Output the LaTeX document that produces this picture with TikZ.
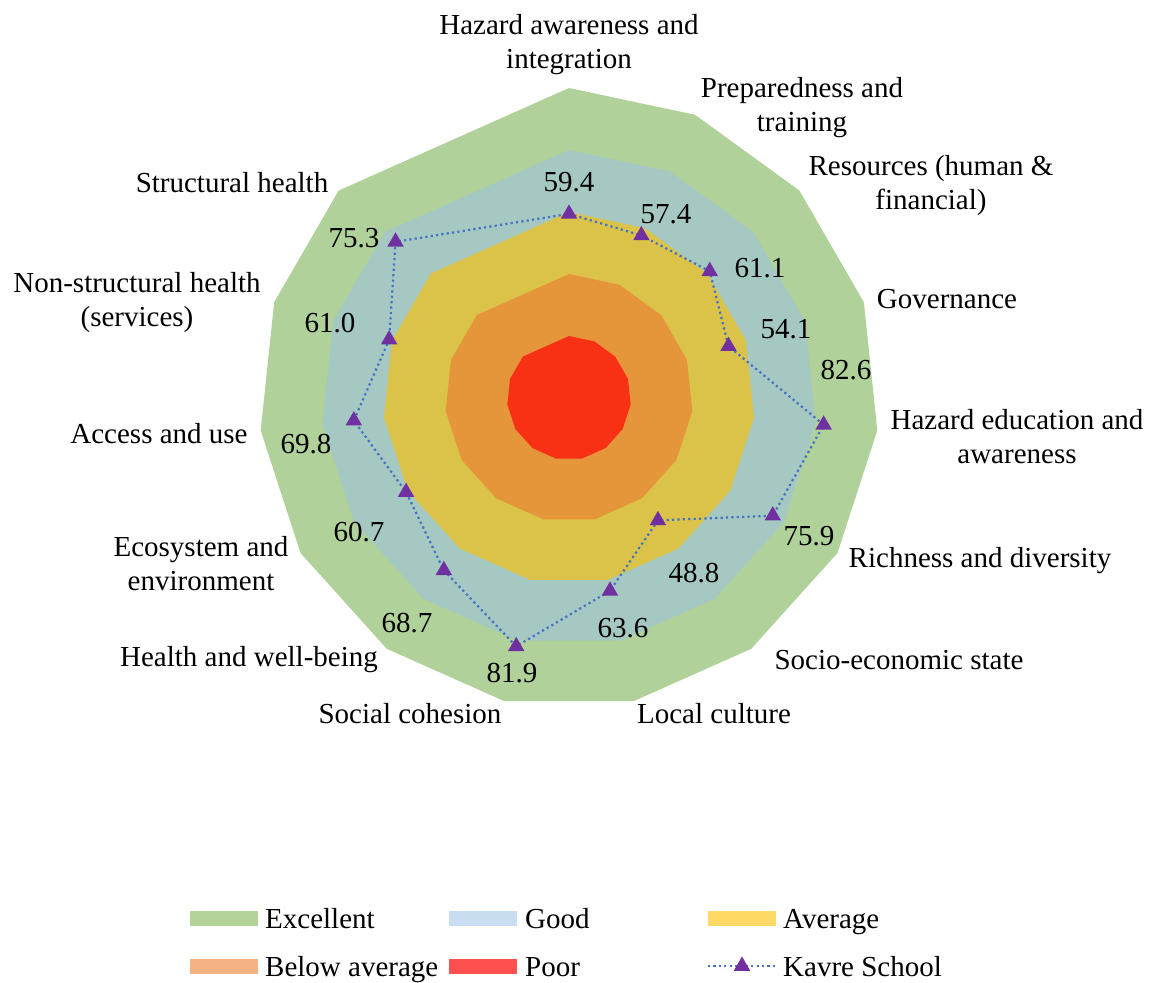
\documentclass[tikz,border=0pt]{standalone}
\usepackage{fontspec}
\setmainfont{Liberation Serif}
\usetikzlibrary{shapes.geometric}
\definecolor{cExc}{HTML}{B0D29A}
\definecolor{cGood}{HTML}{A5C8C2}
\definecolor{cAvg}{HTML}{DBC34A}
\definecolor{cBelow}{HTML}{E5963A}
\definecolor{cPoor}{HTML}{F83014}
\definecolor{lExc}{HTML}{B3D39B}
\definecolor{lGood}{HTML}{C8DDF0}
\definecolor{lAvg}{HTML}{FFD966}
\definecolor{lBelow}{HTML}{F4B183}
\definecolor{lPoor}{HTML}{FF5050}
\definecolor{lineblue}{HTML}{4472C4}
\definecolor{mpurple}{HTML}{7030A0}
\begin{document}
\begin{tikzpicture}[x=1pt,y=-1pt,
  every node/.style={font=\fontsize{29}{34}\selectfont, inner sep=0pt},
  lbl/.style={align=center},
  marker/.style={regular polygon, regular polygon sides=3, fill=mpurple, minimum size=19pt, inner sep=0pt},
  dataline/.style={lineblue, line width=2.2pt, dash pattern=on 2.2pt off 3.2pt},
  swatch/.style={rectangle, minimum width=68pt, minimum height=15pt, inner sep=0pt},
  legtext/.style={anchor=base west}]
\useasboundingbox (0,0) rectangle (1150,982);
\fill[white] (0,0) rectangle (1150,982);
% bands
\foreach \r/\c in {310/cExc,248/cGood,186/cAvg,124/cBelow,62/cPoor}{
  \fill[\c] (569,{398-\r}) \foreach \i in {1,...,13}{ -- ({569+\r*sin(24*\i)},{398-\r*cos(24*\i)}) } -- cycle;
}
% data
\foreach \v [count=\i from 0] in {59.4,57.4,61.1,54.1,82.6,75.9,48.8,63.6,81.9,68.7,60.7,69.8,61.0,75.3}{
  \coordinate (p\i) at ({569+3.1*\v*sin(24*\i)},{398-3.1*\v*cos(24*\i)});
}
\draw[dataline] (p0) \foreach \i in {1,...,13}{ -- (p\i)} -- cycle;
\foreach \i in {0,...,13}{ \node[marker] (m\i) at (p\i) {}; }
% value labels
\node (v0) at (569,182) {59.4};
\node (v1) at (666,214) {57.4};
\node (v2) at (760,268) {61.1};
\node (v3) at (786,329) {54.1};
\node (v4) at (846,370) {82.6};
\node (v5) at (809,536) {75.9};
\node (v6) at (694,573) {48.8};
\node (v7) at (623,628) {63.6};
\node (v8) at (512,673) {81.9};
\node (v9) at (407,623) {68.7};
\node (v10) at (359,532) {60.7};
\node (v11) at (306,444) {69.8};
\node (v12) at (330,323) {61.0};
\node (v13) at (354,238) {75.3};
% category labels
\node[lbl] (c0) at (569,45) {Hazard awareness and\\integration};
\node[lbl] (c1) at (802,108) {Preparedness and\\training};
\node[lbl] (c2) at (931,186) {Resources (human \&\\financial)};
\node[lbl] (c3) at (947,299) {Governance};
\node[lbl] (c4) at (1017,437) {Hazard education and\\awareness};
\node[lbl] (c5) at (980,561) {Richness and diversity};
\node[lbl] (c6) at (899,660) {Socio-economic state};
\node[lbl] (c7) at (714,714) {Local culture};
\node[lbl] (c8) at (410,714) {Social cohesion};
\node[lbl] (c9) at (249,660) {Health and well-being};
\node[lbl] (c10) at (201,564) {Ecosystem and\\environment};
\node[lbl] (c11) at (159,434) {Access and use};
\node[lbl] (c12) at (137,303) {Non-structural health\\(services)};
\node[lbl] (c13) at (232,183) {Structural health};
% legend
\node[swatch, fill=lExc] (s1) at (224,918) {};
\node[legtext] (t1) at (265,928) {Excellent};
\node[swatch, fill=lGood] (s2) at (483,918) {};
\node[legtext] (t2) at (525,928) {Good};
\node[swatch, fill=lAvg] (s3) at (742,918) {};
\node[legtext] (t3) at (783,928) {Average};
\node[swatch, fill=lBelow] (s4) at (224,966) {};
\node[legtext] (t4) at (265,976) {Below average};
\node[swatch, fill=lPoor] (s5) at (483,966) {};
\node[legtext] (t5) at (525,976) {Poor};
\coordinate (k1) at (708,966);
\coordinate (k2) at (776,966);
\draw[dataline] (k1) -- (k2);
\node[marker] (km) at (742,966) {};
\node[legtext] (t6) at (783,976) {Kavre School};
\end{tikzpicture}
\end{document}
